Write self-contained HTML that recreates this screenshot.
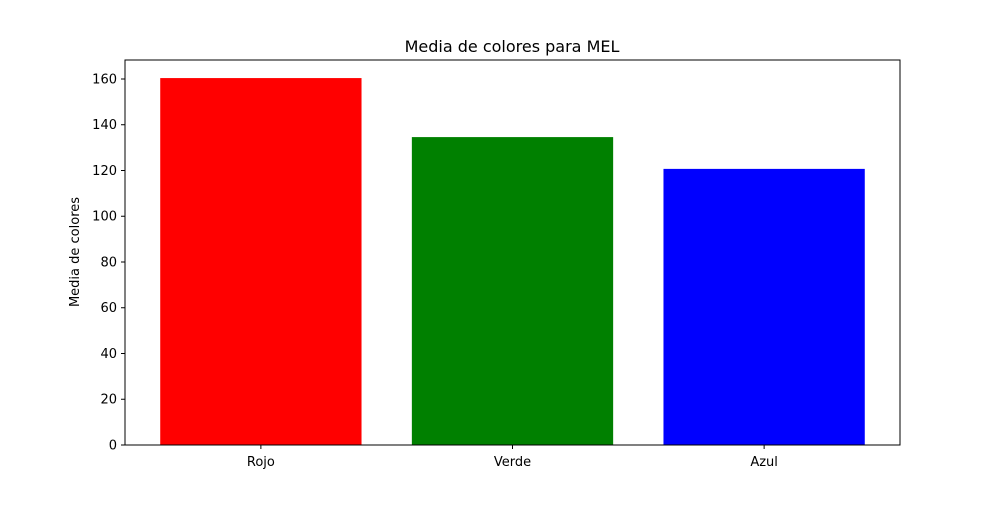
<!DOCTYPE html>
<html><head><meta charset="utf-8"><style>
body{margin:0;background:#fff;}
svg text{font-family:"DejaVu Sans","Liberation Sans",sans-serif;}
</style></head><body>
<svg id="chart" width="1000" height="500" xmlns="http://www.w3.org/2000/svg">
<rect width="1000" height="500" fill="#fff"/>
<text x="512" y="52" text-anchor="middle" font-size="16" fill="#000">Media de colores para MEL</text>
<text transform="translate(79,252) rotate(-90)" text-anchor="middle" font-size="13" fill="#000">Media de colores</text>
<g id="bars"></g><g id="yticks"></g><g id="xticks"></g>
<rect x="125" y="60" width="775" height="385" fill="none" stroke="#000" stroke-width="1"/>
</svg>
<script>
const categories=["Rojo","Verde","Azul"];
const values=[160.4,134.6,120.7];
const colors=["#ff0000","#008000","#0000ff"];
const yTicks=[0,20,40,60,80,100,120,140,160];
const L=125,R=900,T=60,B=445,yMax=168.3,xMin=-0.54,xMax=2.54;
const ns="http://www.w3.org/2000/svg";
const xs=v=>L+(v-xMin)/(xMax-xMin)*(R-L);
const ys=v=>B-v/yMax*(B-T);
function mk(tag,a,p){const e=document.createElementNS(ns,tag);for(const k in a)e.setAttribute(k,a[k]);p.appendChild(e);return e;}
const gb=document.getElementById('bars'),gy=document.getElementById('yticks'),gx=document.getElementById('xticks');
categories.forEach((c,i)=>{
 const r=mk('rect',{x:xs(i-0.4),y:ys(values[i]),width:xs(i+0.4)-xs(i-0.4),height:B-ys(values[i]),fill:colors[i]},gb);
 
 
 mk('line',{x1:xs(i),x2:xs(i),y1:B,y2:B+4,stroke:'#000'},gx);
 const t=mk('text',{x:xs(i),y:B+21,'text-anchor':'middle','font-size':13},gx);
 t.textContent=c;
 
 
});
yTicks.forEach(v=>{
 mk('line',{x1:L-4,x2:L,y1:ys(v),y2:ys(v),stroke:'#000'},gy);
 const t=mk('text',{x:L-8,y:ys(v)+4.5,'text-anchor':'end','font-size':13},gy);
 t.textContent=v;
 
 
});
</script>
</body></html>
